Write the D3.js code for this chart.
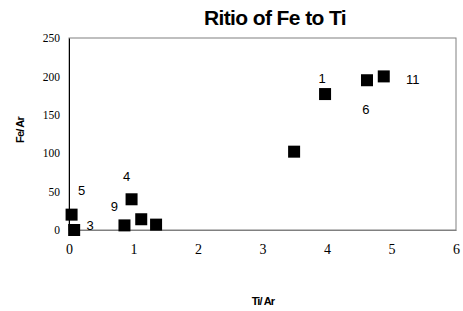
<!DOCTYPE html>
<html>
<head>
<meta charset="utf-8">
<script src="https://cdn.jsdelivr.net/npm/d3@7"></script>
<style>
  body { margin: 0; background: #fff; }
  svg { display: block; }
</style>
</head>
<body>
<div id="chart"></div>
<script>
// Ti/Ar vs Fe/Ar ("" = point has no label)
var tiAr   = [3.97, 3.49, 0.08, 0.97, 0.04, 4.62, 1.12, 1.35, 0.86, 4.88];
var feAr   = [177, 102, 0, 40, 20, 195, 14, 7, 6, 200];
var labels = ["1", "", "3", "4", "5", "6", "", "", "9", "11"];
var xTicks = [0, 1, 2, 3, 4, 5, 6];
var yTicks = [0, 50, 100, 150, 200, 250];

// where each label sits relative to its point
var labelOffset = {
    "1": [-3, -16], "3": [16, -5], "4": [-5, -23], "5": [10, -24],
    "6": [-1, 29], "9": [-10, -19], "11": [29, 3]
};

var width = 463, height = 311;
var margin = { top: 38, right: 7, bottom: 81, left: 69 };

var svg = d3.select("#chart").append("svg")
    .attr("width", width)
    .attr("height", height);

var xScale = d3.scaleLinear()
    .domain([0, 6])
    .range([margin.left, width - margin.right]);

var yScale = d3.scaleLinear()
    .domain([0, 250])
    .range([height - margin.bottom, margin.top]);

// plot frame
svg.append("rect")
    .attr("x", xScale(0))
    .attr("y", yScale(250))
    .attr("width", xScale(6) - xScale(0))
    .attr("height", yScale(0) - yScale(250))
    .attr("fill", "none")
    .attr("stroke", "#808080")
    .attr("stroke-width", 1);

var xAxis = d3.axisBottom(xScale).tickValues(xTicks).tickSize(0).tickPadding(14).tickFormat(d3.format("d"));
var yAxis = d3.axisLeft(yScale).tickValues(yTicks).tickSize(0).tickPadding(9);

svg.append("g")
    .attr("class", "xAxis")
    .attr("transform", "translate(0," + yScale(0) + ")")
    .call(xAxis)
    .call(g => g.select(".domain").attr("stroke", "#808080"))
    .selectAll("text")
    .attr("font-family", "Liberation Serif, Times New Roman, serif")
    .attr("font-size", 14)
    .attr("fill", "#000");

svg.append("g")
    .attr("class", "yAxis")
    .attr("transform", "translate(" + xScale(0) + ",0)")
    .call(yAxis)
    .call(g => g.select(".domain").attr("stroke", "#000"))
    .selectAll("text")
    .attr("font-family", "Liberation Serif, Times New Roman, serif")
    .attr("font-size", 11.5)
    .attr("fill", "#000");

var points = tiAr.map((x, i) => ({ x: x, y: feAr[i], label: labels[i] }));

var size = 12;
svg.append("g")
    .selectAll("rect")
    .data(points)
    .join("rect")
    .attr("x", d => xScale(d.x) - size / 2)
    .attr("y", d => yScale(d.y) - size / 2)
    .attr("width", size)
    .attr("height", size)
    .attr("fill", "#000");

svg.append("g")
    .selectAll("text")
    .data(points.filter(d => d.label !== ""))
    .join("text")
    .attr("x", d => xScale(d.x) + labelOffset[d.label][0])
    .attr("y", d => yScale(d.y) + labelOffset[d.label][1])
    .attr("text-anchor", "middle")
    .attr("dominant-baseline", "central")
    .attr("font-family", "Liberation Sans, Arial, sans-serif")
    .attr("font-size", 13)
    .attr("fill", "#000")
    .text(d => d.label);

// titles
svg.append("text")
    .attr("x", 275)
    .attr("y", 25)
    .attr("text-anchor", "middle")
    .attr("font-family", "Liberation Sans, Arial, sans-serif")
    .attr("font-weight", "bold")
    .attr("font-size", 21)
    .attr("letter-spacing", -0.6)
    .text("Ritio of Fe to Ti");

svg.append("text")
    .attr("x", 263)
    .attr("y", 305)
    .attr("text-anchor", "middle")
    .attr("font-family", "Liberation Sans, Arial, sans-serif")
    .attr("font-weight", "bold")
    .attr("font-size", 11)
    .attr("letter-spacing", -0.8)
    .text("Ti/ Ar");

svg.append("text")
    .attr("transform", "translate(24,130) rotate(-90)")
    .attr("text-anchor", "middle")
    .attr("font-family", "Liberation Sans, Arial, sans-serif")
    .attr("font-weight", "bold")
    .attr("font-size", 11)
    .attr("letter-spacing", -0.8)
    .text("Fe/ Ar");
</script>
</body>
</html>
